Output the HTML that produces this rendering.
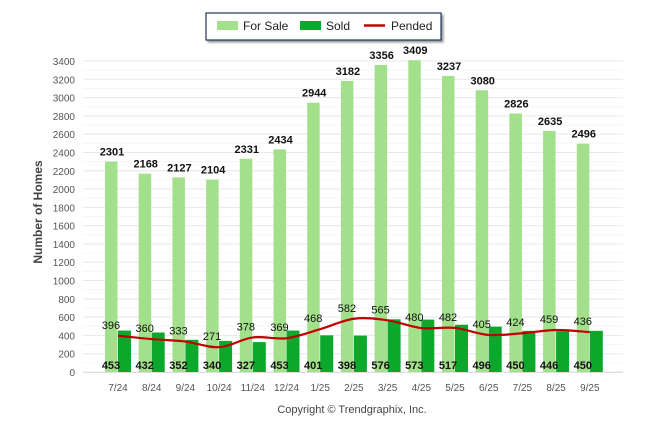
<!DOCTYPE html>
<html><head><meta charset="utf-8"><style>
body{margin:0;background:#fff;width:646px;height:434px;overflow:hidden;font-family:"Liberation Sans",sans-serif}
svg text{font-family:"Liberation Sans",sans-serif}
</style></head><body>
<svg width="646" height="434">
<g id="grid"></g><g id="bars"></g><g id="line"></g><g id="labels"></g>
<g>
<rect x="206" y="13" width="235" height="27" fill="#fff" stroke="#1f3560" stroke-width="1.2" style="filter:drop-shadow(2px 2px 1px #999)"/>
<rect x="217" y="21" width="21" height="9" fill="#a3e08b"/>
<text x="243" y="30" font-size="12" fill="#222">For Sale</text>
<rect x="300" y="21" width="21" height="9" fill="#0ba82b"/>
<text x="326" y="30" font-size="12" fill="#222">Sold</text>
<line x1="364" y1="25.5" x2="385" y2="25.5" stroke="#c00000" stroke-width="2.5"/>
<text x="391" y="30" font-size="12" fill="#222">Pended</text>
</g>
<text transform="translate(42,212) rotate(-90)" text-anchor="middle" font-size="12" font-weight="bold" fill="#444">Number of Homes</text>
<text x="352" y="413" text-anchor="middle" font-size="11" fill="#444">Copyright © Trendgraphix, Inc.</text>
</svg>
<script>
const categories=["7/24","8/24","9/24","10/24","11/24","12/24","1/25","2/25","3/25","4/25","5/25","6/25","7/25","8/25","9/25"];
const forSale=[2301,2168,2127,2104,2331,2434,2944,3182,3356,3409,3237,3080,2826,2635,2496];
const sold=[453,432,352,340,327,453,401,398,576,573,517,496,450,446,450];
const pended=[396,360,333,271,378,369,468,582,565,480,482,405,424,459,436];
const yTicks=[0,200,400,600,800,1000,1200,1400,1600,1800,2000,2200,2400,2600,2800,3000,3200,3400];
const NS="http://www.w3.org/2000/svg";
const y0=372,yTop=61,vTop=3400,x0=83,x1=623,first=118,step=33.7;
const y=v=>y0-(v/vTop)*(y0-yTop);
const x=i=>first+i*step;
function mk(tag,attrs,parent,txt){const e=document.createElementNS(NS,tag);for(const k in attrs)e.setAttribute(k,attrs[k]);if(txt!=null)e.textContent=txt;document.getElementById(parent).appendChild(e);return e;}
for(let v=0;v<=3400;v+=100){const g=mk('line',{x1:x0,x2:x1,y1:y(v),y2:y(v),stroke:v%200?'#f6f6f6':'#e8e8e8'},'grid');

}
yTicks.forEach(v=>{const t=mk('text',{x:75,y:y(v)+4,'text-anchor':'end','font-size':'10',fill:'#555'},'grid',v);

});
mk('line',{x1:x0,x2:x1,y1:y0+0.5,y2:y0+0.5,stroke:'#ddd'},'grid');
categories.forEach((c,i)=>{
const a=mk('rect',{x:x(i)-13,y:y(forSale[i]),width:12.5,height:y0-y(forSale[i]),fill:'#a3e08b'},'bars');


const b=mk('rect',{x:x(i),y:y(sold[i]),width:13,height:y0-y(sold[i]),fill:'#0ba82b'},'bars');


const t=mk('text',{x:x(i),y:391,'text-anchor':'middle','font-size':'10',fill:'#555'},'labels',c);


const l1=mk('text',{x:x(i)-6,y:y(forSale[i])-6,'text-anchor':'middle','font-size':'11','font-weight':'bold',fill:'#111'},'labels',forSale[i]);


const l2=mk('text',{x:x(i)-7,y:369,'text-anchor':'middle','font-size':'11','font-weight':'bold',fill:'#111'},'labels',sold[i]);


const l3=mk('text',{x:x(i)-7,y:y(pended[i])-7,'text-anchor':'middle','font-size':'11',fill:'#111'},'labels',pended[i]);


});
// smooth line (Catmull-Rom)
const pts=pended.map((v,i)=>[x(i),y(v)]);
let d='M'+pts[0][0]+','+pts[0][1];
for(let i=0;i<pts.length-1;i++){const p0=pts[i-1]||pts[i],p1=pts[i],p2=pts[i+1],p3=pts[i+2]||p2;
d+=` C${p1[0]+(p2[0]-p0[0])/6},${p1[1]+(p2[1]-p0[1])/6} ${p2[0]-(p3[0]-p1[0])/6},${p2[1]-(p3[1]-p1[1])/6} ${p2[0]},${p2[1]}`;}
const ln=mk('path',{d:d,fill:'none',stroke:'#c00000','stroke-width':'2.2'},'line');


</script>
</body></html>
